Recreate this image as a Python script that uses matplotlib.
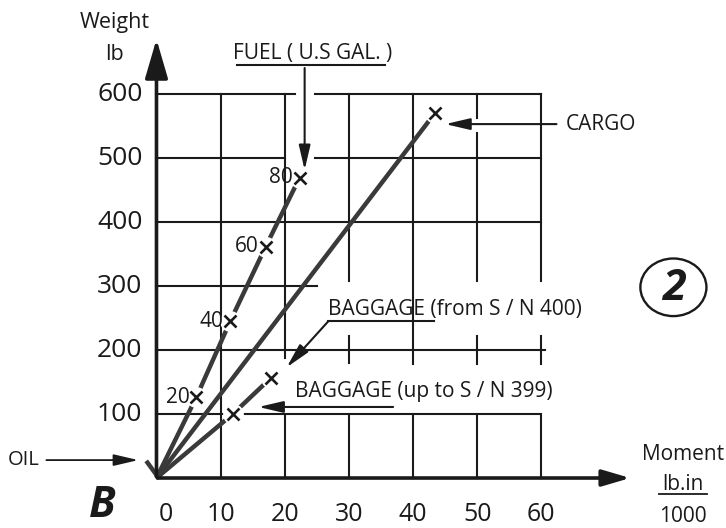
import numpy as np
import matplotlib.pyplot as plt
from matplotlib.patches import Ellipse

plt.rcParams['font.family'] = ['Open Sans', 'DejaVu Sans']

# values
fuel_gal = [20, 40, 60, 80]
fuel_moment = [6.2, 11.5, 17.0, 22.3]
fuel_weight = [126, 245, 361, 469]
cargo_moment = [43.4]
cargo_weight = [570]
bag_moment = [11.9, 17.9]     # up to S/N 399, from S/N 400
bag_weight = [100, 157]
y_ticks = [100, 200, 300, 400, 500, 600]
x_ticks = [0, 10, 20, 30, 40, 50, 60]

ink = '#1a1a1a'
line_c = '#3a3a3a'

fig = plt.figure(figsize=(7.26, 5.28), dpi=100)
ax = fig.add_axes([0, 0, 1, 1])
ax.axis('off')
ax.set_xlim(-24.4, 88.8)
ax.set_ylim(-78.1, 746.9)

# grid, with the gaps left open for the labels
hgrid = {600: [(0, 21.6), (24.7, 60)], 500: [(0, 20), (24.7, 60)],
         400: [(0, 60)], 300: [(0, 25)], 200: [(0, 60.5)], 100: [(0, 60)]}
vgrid = {10: [(0, 600)], 20: [(0, 97), (188, 600)], 30: [(0, 97), (180, 222), (308, 600)],
         40: [(0, 97), (178, 600)], 50: [(0, 97), (178, 222), (308, 539), (562, 600)],
         60: [(0, 97), (178, 222), (308, 600)]}
for y, segs in hgrid.items():
    for a, b in segs:
        ax.plot([a, b], [y, y], color=ink, lw=1.5, zorder=1)
for x, segs in vgrid.items():
    for a, b in segs:
        ax.plot([x, x], [a, b], color=ink, lw=1.5, zorder=1)

# axes with arrows
ax.annotate('', xy=(0, 690), xytext=(0, -2),
            arrowprops=dict(arrowstyle='-|>,head_length=2.4,head_width=0.7',
                            mutation_scale=10, lw=2.6, color=ink), zorder=3)
ax.annotate('', xy=(74.3, 0), xytext=(-0.3, 0),
            arrowprops=dict(arrowstyle='-|>,head_length=1.7,head_width=0.5',
                            mutation_scale=10, lw=2.6, color=ink), zorder=3)

for v in y_ticks:
    ax.text(-2.2, v, str(v), ha='right', va='center', fontsize=19,
            fontweight='medium', color=ink)
for v in x_ticks:
    ax.text(v + (1.4 if v == 0 else 0), -77, str(v), ha='center', va='bottom',
            fontsize=18, fontweight='medium', color=ink)

ax.text(-6.5, 712, 'Weight', ha='center', va='center', fontsize=15.5, color=ink)
ax.text(-6.5, 661, 'lb', ha='center', va='center', fontsize=15.5, color=ink)
ax.text(-8.5, -77, 'B', ha='center', va='bottom', fontsize=31,
        fontweight='bold', fontstyle='italic', color=ink)
ax.text(82.1, 37.5, 'Moment', ha='center', va='center', fontsize=15, color=ink)
ax.text(82.1, -9.4, 'lb.in', ha='center', va='center', fontsize=15, color=ink)
ax.plot([78.4, 85.8], [-25, -25], color=ink, lw=1.3)
ax.text(82.1, -77, '1000', ha='center', va='bottom', fontsize=15, color=ink)

# white halos behind the markers open the lines around them
def series(xs, ys):
    ax.plot([0] + xs, [0] + ys, color=line_c, lw=3.2, solid_capstyle='butt', zorder=2)
    ax.plot(xs, ys, 'o', ms=15, mfc='white', mec='none', zorder=2.5)
    ax.plot(xs, ys, 'x', ms=9, mew=1.9, color=ink, zorder=4)

series(fuel_moment, fuel_weight)
series(cargo_moment, cargo_weight)
series(bag_moment, bag_weight)

for g, m, w in zip(fuel_gal, fuel_moment, fuel_weight):
    ax.text(m - 1.0, w, str(g), ha='right', va='center', fontsize=15, color=ink)

# oil
ax.plot([-1.4, 0.2], [24, 2], color=line_c, lw=3.2, zorder=2)
ax.text(-18.3, 28, 'OIL', ha='right', va='center', fontsize=14.5, color=ink)
ax.annotate('', xy=(-2.4, 28), xytext=(-17.6, 28),
            arrowprops=dict(arrowstyle='-|>,head_length=1.5,head_width=0.35',
                            mutation_scale=10, lw=1.3, color=ink))

# fuel label
ax.text(24.3, 663, 'FUEL ( U.S GAL. )', ha='center', va='center', fontsize=15, color=ink)
ax.plot([12.6, 35.6], [645, 645], color=ink, lw=1.5)
ax.annotate('', xy=(23.1, 477), xytext=(23.1, 645),
            arrowprops=dict(arrowstyle='-|>,head_length=1.5,head_width=0.35',
                            mutation_scale=10, lw=1.5, color=ink))

# cargo label
ax.text(63.8, 553, 'CARGO', ha='left', va='center', fontsize=15, color=ink)
ax.annotate('', xy=(44.6, 553), xytext=(62.8, 553),
            arrowprops=dict(arrowstyle='-|>,head_length=1.5,head_width=0.35',
                            mutation_scale=10, lw=1.5, color=ink))

# baggage labels
ax.text(26.8, 264, 'BAGGAGE (from S / N 400)', ha='left', va='center', fontsize=15, color=ink)
ax.plot([26.8, 43.2], [245, 245], color=ink, lw=1.5)
ax.annotate('', xy=(20.3, 173), xytext=(26.8, 245),
            arrowprops=dict(arrowstyle='-|>,head_length=1.5,head_width=0.35',
                            mutation_scale=10, lw=1.5, color=ink, shrinkA=0, shrinkB=0))
ax.text(21.6, 135, 'BAGGAGE (up to S / N 399)', ha='left', va='center', fontsize=15, color=ink)
ax.annotate('', xy=(15.9, 111), xytext=(36.9, 111),
            arrowprops=dict(arrowstyle='-|>,head_length=1.5,head_width=0.35',
                            mutation_scale=10, lw=1.5, color=ink, shrinkA=0, shrinkB=0))

# page marker
ax.add_patch(Ellipse((80.6, 298), 10.3, 90, fill=False, lw=1.7, color=ink))
ax.text(80.6, 296, '2', ha='center', va='center', fontsize=31,
        fontweight='bold', fontstyle='italic', color=ink)

fig.savefig('out.png', dpi=100)
